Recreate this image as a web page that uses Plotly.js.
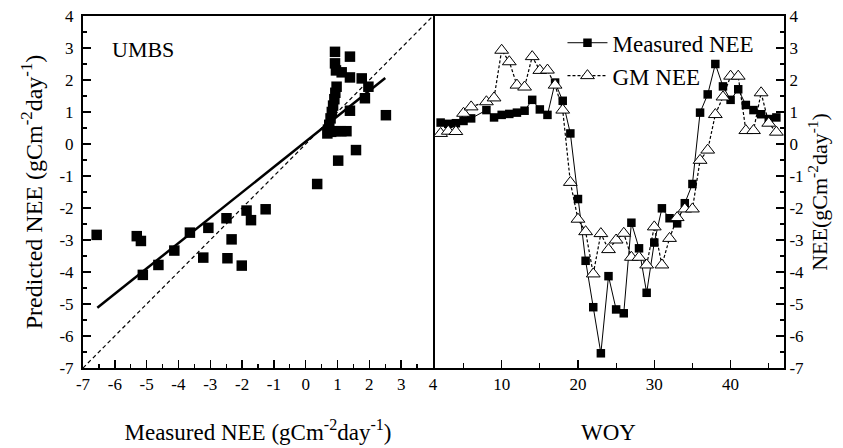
<!DOCTYPE html>
<html>
<head>
<meta charset="utf-8">
<script src="https://cdn.plot.ly/plotly-3.0.1.min.js"></script>
<style>html,body{margin:0;padding:0;background:#fff;}#chart{width:843px;height:448px;}</style>
</head>
<body>
<div id="chart"></div>
<script>
// Left panel: measured vs predicted NEE
const scatMeasured = [-6.57,-5.31,-5.18,-5.12,-4.63,-4.13,-3.64,-3.22,-3.06,-2.49,-2.46,-2.33,-2.01,-1.86,-1.72,-1.26,
  0.36,1.02,1.58,2.52,0.92,1.39,0.92,0.95,1.13,1.39,1.76,1.97,1.86,0.97,0.93,0.90,0.86,1.39,0.82,0.78,0.74,0.70,0.68,0.80,0.95,1.12,1.28];
const scatPredicted = [-2.84,-2.88,-3.03,-4.09,-3.78,-3.33,-2.77,-3.55,-2.62,-2.32,-3.57,-2.98,-3.80,-2.08,-2.38,-2.04,
  -1.25,-0.52,-0.19,0.90,2.88,2.73,2.52,2.30,2.24,2.08,2.05,1.79,1.43,1.79,1.60,1.40,1.20,1.04,1.00,0.80,0.60,0.45,0.33,0.38,0.40,0.40,0.40];
const regX = [-6.55, 2.5];
const regY = [-5.12, 2.06];
const oneToOne = [-7, 4];

// Right panel: weekly NEE
const weeks = [2,3,4,5,6,8,9,10,11,12,13,14,15,16,17,18,19,20,21,22,23,24,25,26,27,28,29,30,31,32,33,34,35,36,37,38,39,40,41,42,43,44,45,46];
const measuredNEE = [0.67,0.63,0.65,0.72,0.80,1.06,0.83,0.91,0.94,0.98,1.04,1.38,1.08,0.91,1.92,1.35,0.33,-1.72,-3.65,-5.10,-6.54,-4.13,-5.17,-5.29,-2.46,-3.26,-4.65,-3.08,-2.01,-2.32,-2.48,-1.85,-1.25,0.98,1.55,2.50,1.80,1.38,1.71,1.22,1.06,0.93,0.78,0.83];
const gmNEE = [0.33,0.40,0.39,0.96,1.16,1.32,1.44,2.93,2.57,1.84,1.78,2.73,2.30,2.31,1.84,1.06,-1.20,-2.35,-2.74,-4.06,-2.80,-3.30,-3.00,-2.79,-3.54,-3.54,-3.78,-2.59,-3.78,-2.95,-2.30,-2.03,-2.03,-0.51,-0.19,0.92,1.47,2.12,2.12,0.42,0.42,1.60,0.65,0.37];

const yTicks = [-7,-6,-5,-4,-3,-2,-1,0,1,2,3,4];
const yTickText = ['-7','-6','-5','-4','-3','-2','-1','0','1','2','3','4'];
const xTicksLeft = [-7,-6,-5,-4,-3,-2,-1,0,1,2,3,4];
const xTickTextLeft = ['-7','-6','-5','-4','-3','-2','-1','0','1','2','3','4'];
const xTicksRight = [10,20,30,40];
const xTickTextRight = ['10','20','30','40'];

const FONT = 'Liberation Serif, Times New Roman, serif';

const traces = [
  {x: oneToOne, y: oneToOne, xaxis:'x', yaxis:'y', mode:'lines', line:{color:'#000', width:1.2, dash:'4px,3px'}, showlegend:false, hoverinfo:'skip'},
  {x: regX, y: regY, xaxis:'x', yaxis:'y', mode:'lines', line:{color:'#000', width:2.5}, showlegend:false},
  {x: scatMeasured, y: scatPredicted, xaxis:'x', yaxis:'y', mode:'markers', marker:{symbol:'square', size:10.5, color:'#000'}, showlegend:false},
  {x: weeks, y: measuredNEE, xaxis:'x2', yaxis:'y2', mode:'lines+markers', name:'Measured NEE',
   line:{color:'#000', width:1}, marker:{symbol:'square', size:8.5, color:'#000'}},
  {x: weeks, y: gmNEE, xaxis:'x2', yaxis:'y2', mode:'lines+markers', name:'GM NEE',
   line:{color:'#000', width:1.2, dash:'3px,2px'}, marker:{symbol:'triangle-up', size:12, color:'#fff', line:{color:'#000', width:1}}}
];

const axisCommon = {
  showline:true, linecolor:'#000', linewidth:2, mirror:true, showgrid:false, zeroline:false,
  ticks:'inside', ticklen:8, tickwidth:1.5, tickcolor:'#000',
  tickfont:{family:FONT, size:17, color:'#000'}
};

const domSplit = 350/701;

const layout = {
  width:843, height:448,
  margin:{l:83, r:59, t:16, b:80},
  paper_bgcolor:'#fff', plot_bgcolor:'#fff',
  font:{family:FONT, color:'#000'},
  xaxis: Object.assign({}, axisCommon, {
    domain:[0, domSplit], range:[-7,4], tickvals:xTicksLeft, ticktext:xTickTextLeft,
    minor:{ticks:'inside', dtick:0.5, tick0:0, ticklen:4, tickwidth:1.2, tickcolor:'#000', showgrid:false},
    title:{text:'Measured NEE (gCm<sup>-2</sup>day<sup>-1</sup>)', font:{family:FONT, size:23}, standoff:30}
  }),
  yaxis: Object.assign({}, axisCommon, {
    domain:[0,1], range:[-7,4], tickvals:yTicks, ticktext:yTickText, anchor:'x', ticklabelstandoff:4,
    minor:{ticks:'inside', dtick:0.5, tick0:0, ticklen:4, tickwidth:1.2, tickcolor:'#000', showgrid:false},
    title:{text:'Predicted NEE (gCm<sup>-2</sup>day<sup>-1</sup>)', font:{family:FONT, size:24}, standoff:10}
  }),
  xaxis2: Object.assign({}, axisCommon, {
    domain:[domSplit, 1], range:[1,47], tickvals:xTicksRight, ticktext:xTickTextRight, anchor:'y2',
    minor:{ticks:'inside', dtick:5, tick0:0, ticklen:5, tickwidth:1.2, tickcolor:'#000', showgrid:false},
    title:{text:'WOY', font:{family:FONT, size:23}, standoff:30}
  }),
  yaxis2: Object.assign({}, axisCommon, {
    domain:[0,1], range:[-7,4], tickvals:yTicks, ticktext:yTickText, anchor:'x2', side:'right', mirror:false,
    minor:{ticks:'inside', dtick:0.5, tick0:0, ticklen:4, tickwidth:1.2, tickcolor:'#000', showgrid:false},
    title:{text:'NEE(gCm<sup>-2</sup>day<sup>-1</sup>)', font:{family:FONT, size:22}, standoff:8}
  }),
  legend:{x:0.684, xanchor:'left', y:0.985, yanchor:'top', bgcolor:'rgba(0,0,0,0)', borderwidth:0,
    font:{family:FONT, size:23, color:'#000'}, tracegroupgap:0, itemwidth:40},
  annotations:[
    {text:'UMBS', xref:'x', yref:'y', x:-6.15, y:2.95, xanchor:'left', yanchor:'middle', showarrow:false,
     font:{family:FONT, size:22, color:'#000'}}
  ]
};

Plotly.newPlot('chart', traces, layout, {staticPlot:true, displayModeBar:false});
</script>
</body>
</html>
